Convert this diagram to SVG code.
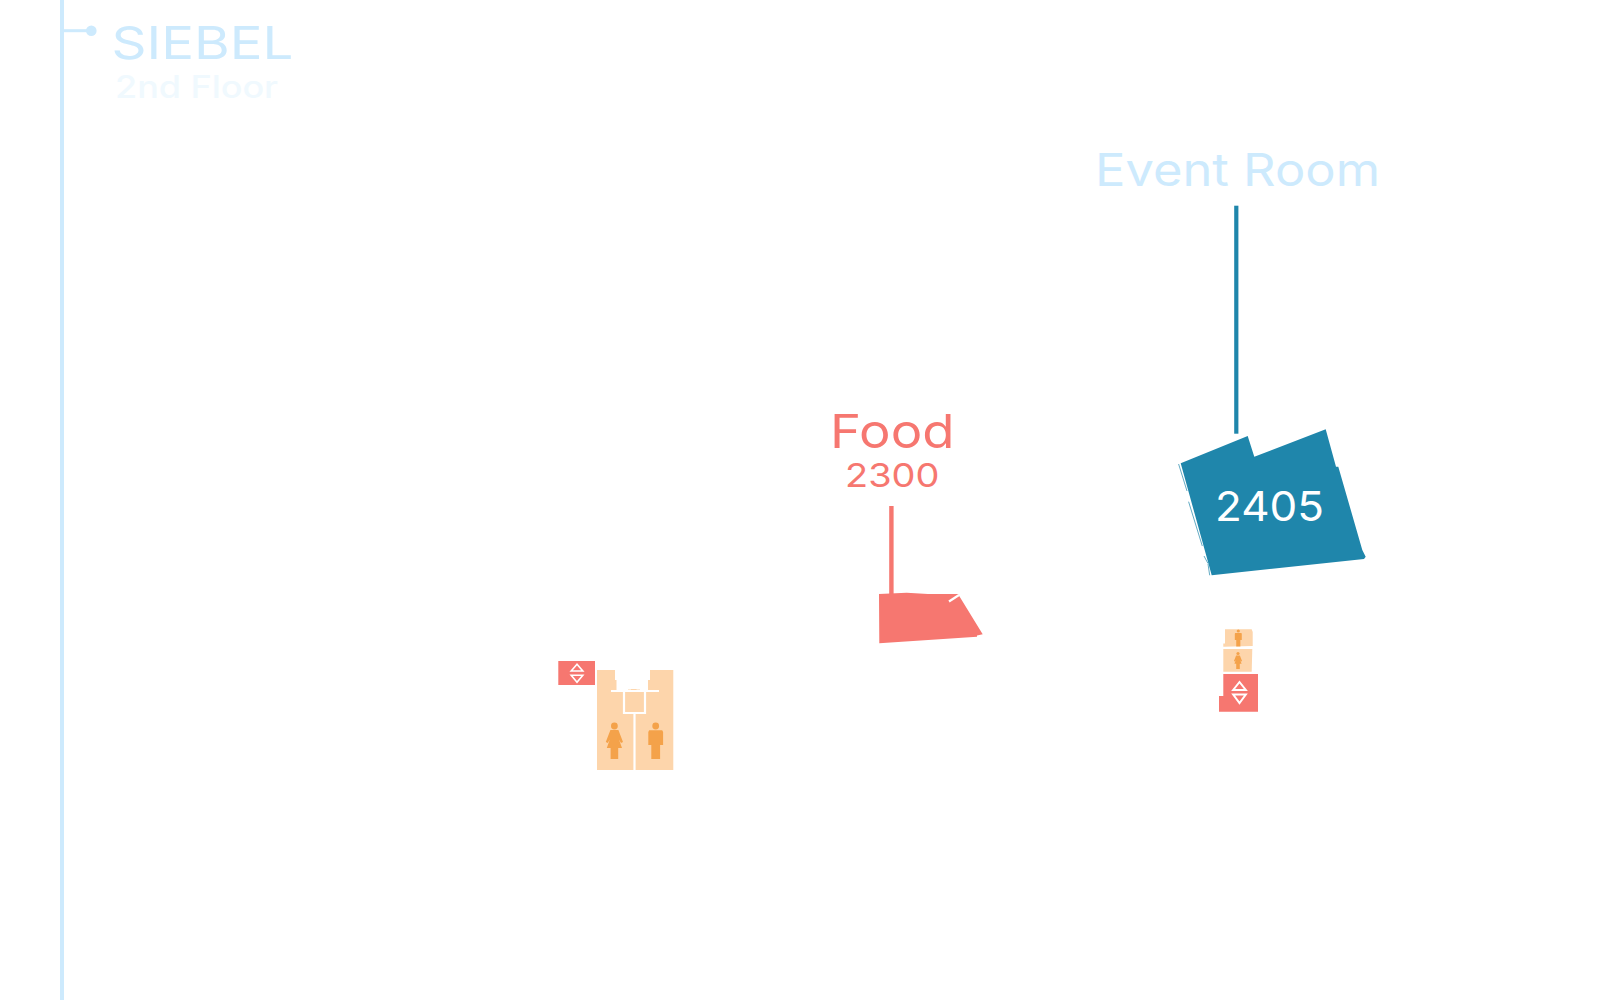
<svg xmlns="http://www.w3.org/2000/svg" width="1602" height="1000" viewBox="0 0 1602 1000">
<style>
text{font-family:"Inter","Liberation Sans",sans-serif;font-weight:400}
.pale{fill:#cdeafd}.teal{fill:#1f86ab}.coral{fill:#f67770}.peach{fill:#fdd5ab}.orange{fill:#f4a24a}
.wl{stroke:#fff;fill:none}
</style>
<defs>
<g id="woman" class="orange"><circle cx="0" cy="0" r="3.4"/><path d="M-4 4H4L8.6 16 6.6 17 4.6 13.5 7.6 22H3.8V33H-3.8V22H-7.6L-4.6 13.5-6.6 17-8.6 16Z"/></g>
<g id="man" class="orange"><circle cx="0" cy="0" r="3.4"/><path d="M-6.5 4.2H6.5L7.4 6V19H4.4V33H-4.4V19H-7.4V6Z"/></g>
</defs>
<g id="header">
<rect class="pale" x="60" y="0" width="4" height="1000"/>
<rect class="pale" x="64" y="29.2" width="26" height="3"/>
<circle class="pale" cx="91.3" cy="30.7" r="5.3"/>
<text class="pale" x="111.5" y="59.3" font-size="45.6" textLength="182" lengthAdjust="spacingAndGlyphs">SIEBEL</text>
<text x="115" y="98.3" font-size="31" fill="#f0f9fe" style="font-weight:500" textLength="163" lengthAdjust="spacingAndGlyphs">2nd Floor</text>
</g>
<g id="connectors">
<rect class="teal" x="1234.2" y="205.7" width="4.2" height="228"/>
<rect class="coral" x="889.2" y="506" width="4.4" height="92"/>
</g>
<g id="event-room">
<text class="pale" x="1095" y="186" font-size="45.5" textLength="285" lengthAdjust="spacingAndGlyphs">Event Room</text>
<path class="teal" d="M1180.7 463.3 1247.7 436 1254.3 456.7 1325.7 429.3 1336 466.7H1338.3L1362.3 550 1365.7 556.7 1364 559 1211.7 575.3Z"/>
<path d="M1178.6 464 1187 491M1188.6 501.7 1202.3 546M1204 556 1208 563.5M1208 564 1209.7 575.3" stroke="#1f86ab" stroke-width=".7" fill="none"/>
<text x="1215" y="520.7" font-size="41.5" fill="#fff" textLength="109" lengthAdjust="spacingAndGlyphs">2405</text>
</g>
<g id="food">
<text class="coral" x="830" y="447.7" font-size="47" textLength="124.5" lengthAdjust="spacingAndGlyphs">Food</text>
<text class="coral" x="845" y="487.3" font-size="33" textLength="94.5" lengthAdjust="spacingAndGlyphs">2300</text>
<path class="coral" d="M879 594 906.7 592.7 928 594H958L982.7 634.3 977 635.5 977 636.8 879.3 643.3Z"/>
<path class="wl" stroke-width="2.2" d="M949 601.5 959 595"/>
</g>
<g id="restrooms-west">
<path class="peach" d="M597 670H615V680H616.5V690H648V680H650V670H673.3V770H597Z"/>
<path class="peach" d="M628 689.5H631V689H636.5V689.5H640V692H628Z"/>
<path class="wl" stroke-width="2.2" d="M611 691H659M624 691V713H645V691M634.5 713V770"/>
<use href="#woman" x="614.4" y="726"/>
<use href="#man" x="655.7" y="726"/>
</g>
<g id="elevator-west">
<rect class="coral" x="558.3" y="661" width="36.7" height="24"/>
<path class="wl" stroke-width="1.6" d="M577 664.3 571.2 671H582.8ZM571.2 675.2H582.8L577 682.2Z"/>
</g>
<g id="restrooms-east">
<path class="peach" d="M1225 629.3H1251.7L1252.7 632V646L1223.3 646.7V643.5H1225Z"/>
<use href="#man" transform="translate(1238.3 631) scale(.47)"/>
<path class="peach" d="M1223.3 649H1252.3L1251.7 671.7H1223.3Z"/>
<use href="#woman" transform="translate(1238 653.5) scale(.47)"/>
</g>
<g id="elevator-east">
<path class="coral" d="M1223.3 674H1258V711.7H1219V696H1223.3Z"/>
<path class="wl" stroke-width="2" d="M1239.5 682 1233.2 690H1245.8ZM1233.2 694.5H1245.8L1239.5 703Z"/>
</g>
</svg>
